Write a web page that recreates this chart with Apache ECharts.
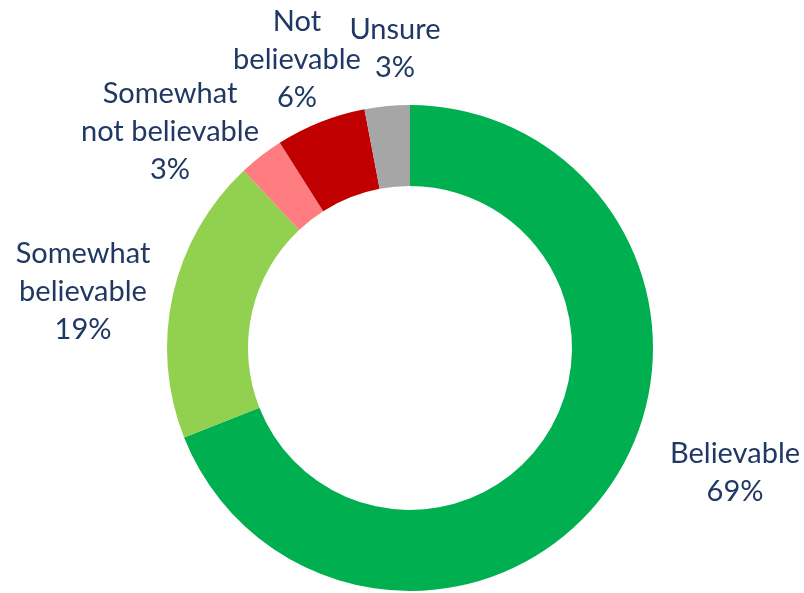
<!DOCTYPE html>
<html>
<head>
<meta charset="utf-8">
<script src="https://cdn.jsdelivr.net/npm/echarts@6/dist/echarts.min.js"></script>
<style>
html, body { margin: 0; padding: 0; background: #fff; }
#main { width: 804px; height: 593px; }
</style>
</head>
<body>
<div id="main"></div>
<script>
// data
var categories = ['Believable', 'Somewhat believable', 'Somewhat not believable', 'Not believable', 'Unsure'];
var values = [69, 19, 3, 6, 3];
var labelNames = ['Believable', 'Somewhat\nbelievable', 'Somewhat\nnot believable', 'Not\nbelievable', 'Unsure'];
var colors = ['#00B050', '#92D050', '#FF7C80', '#C00000', '#A6A6A6'];
// label anchor points (label centres, px)
var labelPos = [[735, 473], [83, 292], [170, 132], [297, 60], [395, 49]];

var chart = echarts.init(document.getElementById('main'), null, { renderer: 'canvas' });

var seriesData = [];
for (var i = 0; i < categories.length; i++) {
	seriesData.push({
		name: categories[i],
		value: values[i],
		itemStyle: { color: colors[i] }
	});
}

var option = {
	backgroundColor: '#fff',
	animation: false,
	series: [{
		type: 'pie',
		center: [410, 348],
		radius: [162, 243],
		startAngle: 90,
		clockwise: true,
		data: seriesData,
		itemStyle: { borderWidth: 0 },
		label: {
			show: true,
			position: 'outside',
			color: '#1F3864',
			fontFamily: 'Lato',
			fontSize: 29,
			lineHeight: 38,
			align: 'center',
			overflow: 'none',
			width: 300,
			formatter: function (p) {
				return labelNames[p.dataIndex] + '\n' + p.value + '%';
			}
		},
		labelLine: { show: false },
		labelLayout: function (p) {
			var pos = labelPos[p.dataIndex];
			return {
				x: pos[0],
				y: pos[1],
				align: 'center',
				verticalAlign: 'middle'
			};
		},
		emphasis: { disabled: true }
	}]
};
chart.setOption(option);
</script>
</body>
</html>
